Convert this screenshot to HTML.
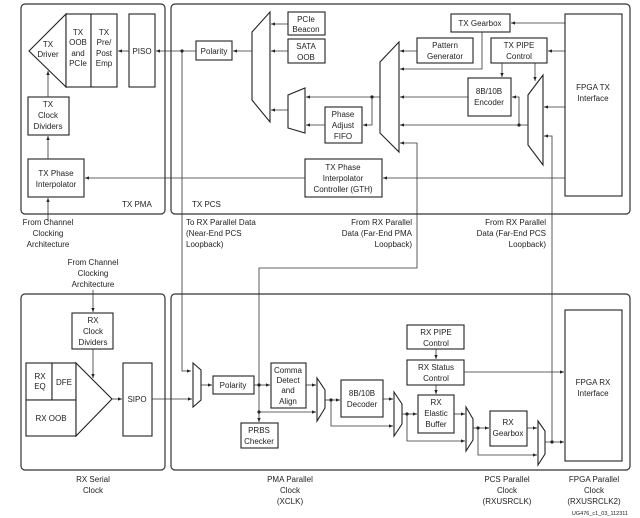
<!DOCTYPE html>
<html><head><meta charset="utf-8"><style>
html,body{margin:0;padding:0;background:#fff;}
svg{display:block;font-family:"Liberation Sans",sans-serif;font-size:8px;fill:#222;}
.b{fill:#fff;stroke:#222;stroke-width:1.1;}
.l{fill:none;stroke:#333;stroke-width:0.8;}
.p{fill:none;stroke:#333;stroke-width:1.2;}
text{fill:#222;}
</style></head><body>
<svg width="640" height="518" viewBox="0 0 640 518" xmlns="http://www.w3.org/2000/svg">
<defs><marker id="a" viewBox="0 0 6 6" refX="6" refY="3" markerWidth="5" markerHeight="5" orient="auto"><path d="M0,0.5 L6,3 L0,5.5z" fill="#222"/></marker></defs>
<!-- panels -->
<rect class="p" x="21" y="4" width="144" height="210" rx="4"/>
<rect class="p" x="171" y="4" width="459" height="210" rx="4"/>
<rect class="p" x="21" y="294" width="144" height="176" rx="4"/>
<rect class="p" x="171" y="294" width="459" height="176" rx="4"/>

<!-- TX PMA -->
<polygon class="b" points="29,51 66,14 66,87"/>
<rect class="b" x="66" y="14" width="25" height="73"/>
<rect class="b" x="91" y="14" width="26" height="73"/>
<rect class="b" x="129" y="14" width="26" height="73"/>
<text text-anchor="middle"><tspan x="48" y="47">TX</tspan><tspan x="48" y="57">Driver</tspan></text>
<text text-anchor="middle"><tspan x="78" y="35">TX</tspan><tspan x="78" y="45">OOB</tspan><tspan x="78" y="56">and</tspan><tspan x="78" y="66">PCIe</tspan></text>
<text text-anchor="middle"><tspan x="104" y="35">TX</tspan><tspan x="104" y="45">Pre/</tspan><tspan x="104" y="56">Post</tspan><tspan x="104" y="66">Emp</tspan></text>
<text x="142" y="54" text-anchor="middle">PISO</text>
<line class="l" x1="129" y1="51" x2="118" y2="51" marker-end="url(#a)"/>
<rect class="b" x="28" y="97" width="41" height="38"/>
<text text-anchor="middle"><tspan x="48" y="107">TX</tspan><tspan x="48" y="118">Clock</tspan><tspan x="48" y="129">Dividers</tspan></text>
<rect class="b" x="28" y="159" width="56" height="38"/>
<text text-anchor="middle"><tspan x="56" y="176">TX Phase</tspan><tspan x="56" y="187">Interpolator</tspan></text>
<line class="l" x1="48" y1="159" x2="48" y2="136" marker-end="url(#a)"/>
<line class="l" x1="48" y1="97" x2="48" y2="71" marker-end="url(#a)"/>
<line class="l" x1="48" y1="222" x2="48" y2="198" marker-end="url(#a)"/>
<text x="122" y="207">TX PMA</text>
<text x="192" y="207">TX PCS</text>

<!-- TX PCS -->
<line class="l" x1="196" y1="51" x2="156" y2="51" marker-end="url(#a)"/>
<circle cx="182" cy="51" r="1.6" fill="#222"/>
<polyline class="l" points="182,51 182,371 191,371" marker-end="url(#a)"/>
<rect class="b" x="196" y="41" width="36" height="19"/>
<text x="214" y="54" text-anchor="middle">Polarity</text>
<line class="l" x1="252" y1="51" x2="233" y2="51" marker-end="url(#a)"/>
<polygon class="b" points="252,32 270,12 270,122 252,100"/>
<rect class="b" x="288" y="12" width="37" height="23"/>
<text text-anchor="middle"><tspan x="306" y="22">PCIe</tspan><tspan x="306" y="32">Beacon</tspan></text>
<rect class="b" x="288" y="39" width="37" height="24"/>
<text text-anchor="middle"><tspan x="306" y="49">SATA</tspan><tspan x="306" y="60">OOB</tspan></text>
<line class="l" x1="288" y1="24" x2="271" y2="24" marker-end="url(#a)"/>
<line class="l" x1="288" y1="51" x2="271" y2="51" marker-end="url(#a)"/>
<polygon class="b" points="288,95 305,88 305,133 288,128"/>
<line class="l" x1="288" y1="110" x2="271" y2="110" marker-end="url(#a)"/>
<line class="l" x1="380" y1="97" x2="306" y2="97" marker-end="url(#a)"/>
<circle cx="372" cy="97" r="1.6" fill="#222"/>
<polyline class="l" points="372,97 372,125 363,125" marker-end="url(#a)"/>
<rect class="b" x="325" y="107" width="37" height="36"/>
<text text-anchor="middle"><tspan x="343" y="117">Phase</tspan><tspan x="343" y="128">Adjust</tspan><tspan x="343" y="139">FIFO</tspan></text>
<line class="l" x1="325" y1="125" x2="306" y2="125" marker-end="url(#a)"/>
<polygon class="b" points="380,62 399,42 399,152 380,133"/>
<rect class="b" x="417" y="38" width="56" height="25"/>
<text text-anchor="middle"><tspan x="445" y="48">Pattern</tspan><tspan x="445" y="59">Generator</tspan></text>
<line class="l" x1="417" y1="51" x2="400" y2="51" marker-end="url(#a)"/>
<rect class="b" x="451" y="14" width="59" height="18"/>
<text x="480" y="26" text-anchor="middle">TX Gearbox</text>
<polyline class="l" points="482,32 482,69 400,69" marker-end="url(#a)"/>
<line class="l" x1="565" y1="23" x2="511" y2="23" marker-end="url(#a)"/>
<rect class="b" x="491" y="38" width="56" height="25"/>
<text text-anchor="middle"><tspan x="519" y="48">TX PIPE</tspan><tspan x="519" y="59">Control</tspan></text>
<line class="l" x1="565" y1="51" x2="548" y2="51" marker-end="url(#a)"/>
<rect class="b" x="468" y="78" width="43" height="38"/>
<text text-anchor="middle"><tspan x="489" y="94">8B/10B</tspan><tspan x="489" y="105">Encoder</tspan></text>
<line class="l" x1="502" y1="63" x2="502" y2="77" marker-end="url(#a)"/>
<line class="l" x1="535" y1="63" x2="535" y2="81" marker-end="url(#a)"/>
<line class="l" x1="468" y1="97" x2="400" y2="97" marker-end="url(#a)"/>
<polygon class="b" points="528,95 543,75 543,165 528,145"/>
<line class="l" x1="528" y1="125" x2="400" y2="125" marker-end="url(#a)"/>
<circle cx="519" cy="125" r="1.6" fill="#222"/>
<polyline class="l" points="519,125 519,97 512,97" marker-end="url(#a)"/>
<line class="l" x1="565" y1="107" x2="544" y2="107" marker-end="url(#a)"/>
<polyline class="l" points="552,442 552,136 544,136" marker-end="url(#a)"/>
<rect class="b" x="565" y="14" width="57" height="182"/>
<text text-anchor="middle"><tspan x="593" y="90">FPGA TX</tspan><tspan x="593" y="101">Interface</tspan></text>
<rect class="b" x="305" y="159" width="77" height="38"/>
<text text-anchor="middle"><tspan x="343" y="170">TX Phase</tspan><tspan x="343" y="181">Interpolator</tspan><tspan x="343" y="192">Controller (GTH)</tspan></text>
<line class="l" x1="565" y1="178" x2="383" y2="178" marker-end="url(#a)"/>
<line class="l" x1="305" y1="178" x2="85" y2="178" marker-end="url(#a)"/>
<polyline class="l" points="259,412 259,268 417,268 417,143 400,143" marker-end="url(#a)"/>

<!-- mid labels -->
<text text-anchor="middle"><tspan x="48" y="225">From Channel</tspan><tspan x="48" y="236">Clocking</tspan><tspan x="48" y="247">Architecture</tspan></text>
<text><tspan x="186" y="225">To RX Parallel Data</tspan><tspan x="186" y="236">(Near-End PCS</tspan><tspan x="186" y="247">Loopback)</tspan></text>
<text text-anchor="end"><tspan x="412" y="225">From RX Parallel</tspan><tspan x="412" y="236">Data (Far-End PMA</tspan><tspan x="412" y="247">Loopback)</tspan></text>
<text text-anchor="end"><tspan x="546" y="225">From RX Parallel</tspan><tspan x="546" y="236">Data (Far-End PCS</tspan><tspan x="546" y="247">Loopback)</tspan></text>
<text text-anchor="middle"><tspan x="93" y="265">From Channel</tspan><tspan x="93" y="276">Clocking</tspan><tspan x="93" y="287">Architecture</tspan></text>

<!-- RX PMA -->
<line class="l" x1="93" y1="290" x2="93" y2="312" marker-end="url(#a)"/>
<rect class="b" x="72" y="313" width="41" height="36"/>
<text text-anchor="middle"><tspan x="93" y="323">RX</tspan><tspan x="93" y="334">Clock</tspan><tspan x="93" y="345">Dividers</tspan></text>
<rect class="b" x="26" y="363" width="26" height="37"/>
<rect class="b" x="52" y="363" width="24" height="37"/>
<rect class="b" x="26" y="400" width="50" height="36"/>
<polygon class="b" points="76,363 112,399 76,436"/>
<text text-anchor="middle"><tspan x="40" y="379">RX</tspan><tspan x="40" y="389">EQ</tspan></text>
<text x="64" y="385" text-anchor="middle">DFE</text>
<text x="51" y="421" text-anchor="middle">RX OOB</text>
<line class="l" x1="93" y1="349" x2="93" y2="378" marker-end="url(#a)"/>
<line class="l" x1="112" y1="399" x2="122" y2="399" marker-end="url(#a)"/>
<rect class="b" x="123" y="363" width="29" height="73"/>
<text x="137" y="402" text-anchor="middle">SIPO</text>
<line class="l" x1="152" y1="399" x2="192" y2="399" marker-end="url(#a)"/>

<!-- RX PCS -->
<polygon class="b" points="193,363 201,370 201,400 193,407"/>
<line class="l" x1="201" y1="385" x2="212" y2="385" marker-end="url(#a)"/>
<rect class="b" x="213" y="376" width="41" height="18"/>
<text x="233" y="388" text-anchor="middle">Polarity</text>
<line class="l" x1="254" y1="385" x2="270" y2="385" marker-end="url(#a)"/>
<circle cx="259" cy="385" r="1.6" fill="#222"/>
<circle cx="259" cy="412" r="1.6" fill="#222"/>
<line class="l" x1="259" y1="412" x2="259" y2="422" marker-end="url(#a)"/>
<rect class="b" x="241" y="423" width="37" height="25"/>
<text text-anchor="middle"><tspan x="259" y="433">PRBS</tspan><tspan x="259" y="444">Checker</tspan></text>
<line class="l" x1="259" y1="412" x2="316" y2="412" marker-end="url(#a)"/>
<rect class="b" x="271" y="363" width="35" height="45"/>
<text text-anchor="middle"><tspan x="288" y="373">Comma</tspan><tspan x="288" y="383">Detect</tspan><tspan x="288" y="393">and</tspan><tspan x="288" y="404">Align</tspan></text>
<line class="l" x1="306" y1="385" x2="316" y2="385" marker-end="url(#a)"/>
<polygon class="b" points="317,378 325,390 325,408 317,421"/>
<line class="l" x1="325" y1="400" x2="340" y2="400" marker-end="url(#a)"/>
<circle cx="331" cy="400" r="1.6" fill="#222"/>
<polyline class="l" points="331,400 331,426 393,426" marker-end="url(#a)"/>
<rect class="b" x="341" y="380" width="42" height="37"/>
<text text-anchor="middle"><tspan x="362" y="396">8B/10B</tspan><tspan x="362" y="407">Decoder</tspan></text>
<line class="l" x1="383" y1="399" x2="393" y2="399" marker-end="url(#a)"/>
<polygon class="b" points="394,392 402,404 402,424 394,436"/>
<line class="l" x1="402" y1="414" x2="417" y2="414" marker-end="url(#a)"/>
<circle cx="407" cy="414" r="1.6" fill="#222"/>
<polyline class="l" points="407,414 407,441 465,441" marker-end="url(#a)"/>
<rect class="b" x="407" y="325" width="57" height="24"/>
<text text-anchor="middle"><tspan x="436" y="335">RX PIPE</tspan><tspan x="436" y="346">Control</tspan></text>
<line class="l" x1="436" y1="349" x2="436" y2="359" marker-end="url(#a)"/>
<rect class="b" x="407" y="360" width="57" height="25"/>
<text text-anchor="middle"><tspan x="436" y="370">RX Status</tspan><tspan x="436" y="381">Control</tspan></text>
<line class="l" x1="436" y1="385" x2="436" y2="394" marker-end="url(#a)"/>
<line class="l" x1="464" y1="372" x2="564" y2="372" marker-end="url(#a)"/>
<rect class="b" x="418" y="395" width="36" height="38"/>
<text text-anchor="middle"><tspan x="436" y="405">RX</tspan><tspan x="436" y="416">Elastic</tspan><tspan x="436" y="427">Buffer</tspan></text>
<line class="l" x1="454" y1="414" x2="465" y2="414" marker-end="url(#a)"/>
<polygon class="b" points="466,407 473,419 473,440 466,451"/>
<line class="l" x1="473" y1="428" x2="489" y2="428" marker-end="url(#a)"/>
<circle cx="478" cy="428" r="1.6" fill="#222"/>
<polyline class="l" points="478,428 478,455 537,455" marker-end="url(#a)"/>
<rect class="b" x="490" y="411" width="37" height="35"/>
<text text-anchor="middle"><tspan x="508" y="425">RX</tspan><tspan x="508" y="436">Gearbox</tspan></text>
<line class="l" x1="527" y1="428" x2="537" y2="428" marker-end="url(#a)"/>
<polygon class="b" points="538,421 545,431 545,454 538,465"/>
<line class="l" x1="545" y1="442" x2="564" y2="442" marker-end="url(#a)"/>
<circle cx="552" cy="442" r="1.6" fill="#222"/>
<rect class="b" x="565" y="310" width="57" height="151"/>
<text text-anchor="middle"><tspan x="593" y="385">FPGA RX</tspan><tspan x="593" y="396">Interface</tspan></text>

<!-- bottom labels -->
<text text-anchor="middle"><tspan x="93" y="482">RX Serial</tspan><tspan x="93" y="493">Clock</tspan></text>
<text text-anchor="middle"><tspan x="290" y="482">PMA Parallel</tspan><tspan x="290" y="493">Clock</tspan><tspan x="290" y="504">(XCLK)</tspan></text>
<text text-anchor="middle"><tspan x="507" y="482">PCS Parallel</tspan><tspan x="507" y="493">Clock</tspan><tspan x="507" y="504">(RXUSRCLK)</tspan></text>
<text text-anchor="middle"><tspan x="594" y="482">FPGA Parallel</tspan><tspan x="594" y="493">Clock</tspan><tspan x="594" y="504">(RXUSRCLK2)</tspan></text>
<text x="628" y="515" text-anchor="end" font-size="5.5">UG476_c1_03_112311</text>
</svg>
</body></html>
